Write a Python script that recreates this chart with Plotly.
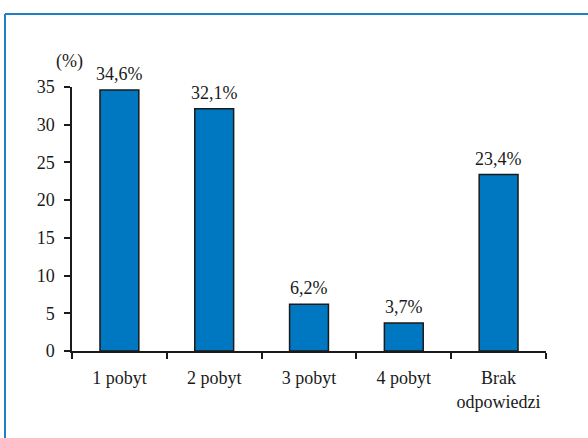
import plotly.graph_objects as go

# Number of stays (share of respondents, %)
categories = ["1 pobyt", "2 pobyt", "3 pobyt", "4 pobyt", "Brak<br>odpowiedzi"]
values = [34.6, 32.1, 6.2, 3.7, 23.4]
y_ticks = [0, 5, 10, 15, 20, 25, 30, 35]

FONT = "Liberation Serif"
BAR_COLOR = "#0078c1"
FRAME_COLOR = "#1f7fc6"
INK = "#1a1a1a"

W, H = 588, 438
L, R, T, B = 72, 42, 87, 87
pw, ph = W - L - R, H - T - B


def px_to_paper_x(px):
    return (px - L) / pw


def px_to_paper_y(py):
    return (H - B - py) / ph


labels = [f"{v:.1f}".replace(".", ",") + "%" for v in values]

fig = go.Figure(
    go.Bar(
        x=categories,
        y=values,
        marker=dict(color=BAR_COLOR, line=dict(color=INK, width=1.5)),
        hoverinfo="skip",
    )
)

# value labels above each bar
for c, v, t in zip(categories, values, labels):
    fig.add_annotation(
        x=c, y=v, text=t, showarrow=False, yanchor="bottom",
        yshift=4, font=dict(family=FONT, size=18, color=INK),
    )

# unit label above the y axis
fig.add_annotation(
    xref="paper", yref="paper", x=px_to_paper_x(69), y=px_to_paper_y(62),
    text="(%)", showarrow=False, xanchor="center", yanchor="middle",
    font=dict(family=FONT, size=18, color=INK),
)

# outer frame (top and left edges)
fig.add_shape(type="line", xref="paper", yref="paper",
              x0=px_to_paper_x(5), x1=px_to_paper_x(W + 5),
              y0=px_to_paper_y(14), y1=px_to_paper_y(14),
              line=dict(color=FRAME_COLOR, width=2))
fig.add_shape(type="line", xref="paper", yref="paper",
              x0=px_to_paper_x(5), x1=px_to_paper_x(5),
              y0=px_to_paper_y(14), y1=px_to_paper_y(H + 5),
              line=dict(color=FRAME_COLOR, width=2))

fig.update_layout(
    width=W, height=H,
    margin=dict(l=L, r=R, t=T, b=B),
    paper_bgcolor="white", plot_bgcolor="white",
    bargap=0.59,
    showlegend=False,
    font=dict(family=FONT, size=18, color=INK),
)
fig.update_xaxes(
    type="category", tickson="boundaries", ticks="outside", ticklen=6,
    tickcolor=INK, tickwidth=1.5, ticklabelstandoff=10,
    showline=True, linecolor=INK, linewidth=1.5,
    showgrid=False, tickfont=dict(family=FONT, size=18, color=INK),
)
fig.update_yaxes(
    range=[0, 35], tickvals=y_ticks, ticks="outside", ticklen=6,
    tickcolor=INK, tickwidth=1.5, ticklabelstandoff=6,
    showline=True, linecolor=INK, linewidth=1.5,
    showgrid=False, zeroline=False,
    tickfont=dict(family=FONT, size=18, color=INK),
)

fig.write_html("out.html")
